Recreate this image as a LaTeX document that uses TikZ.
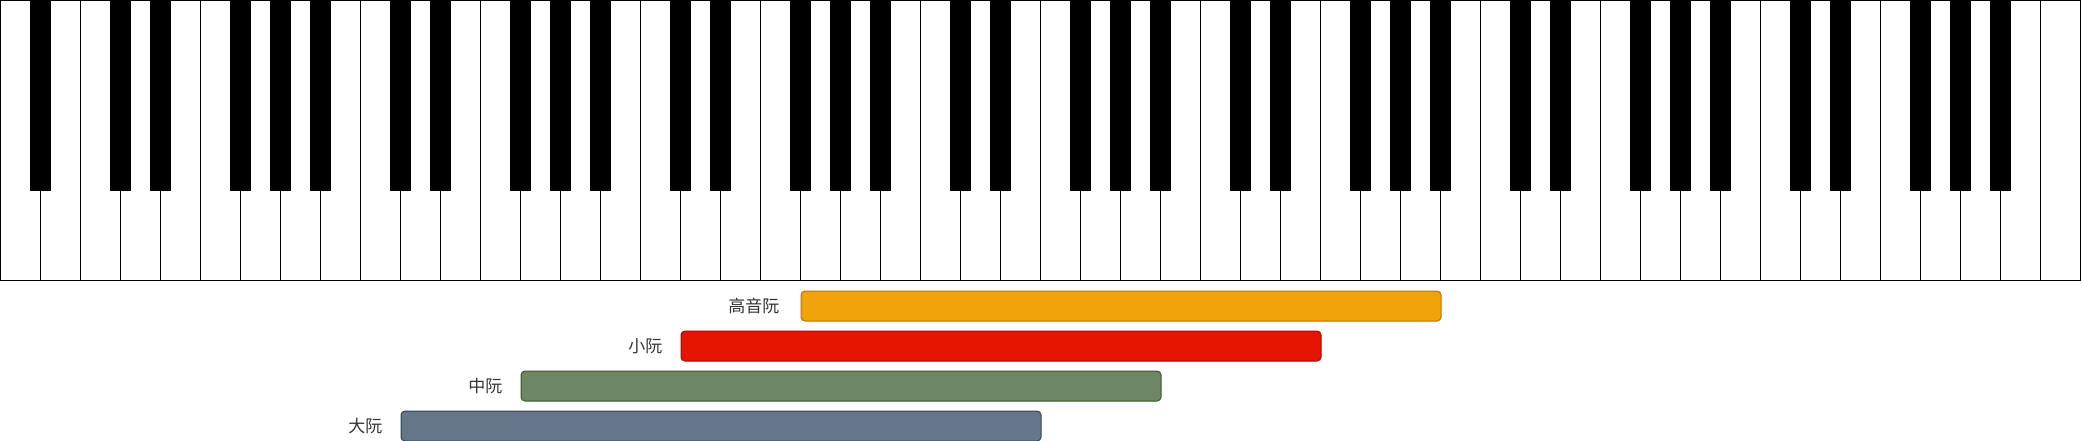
\documentclass[tikz,border=0pt]{standalone}
\usepackage{fontspec}
\newfontfamily\cjk{Noto Sans CJK SC}
\definecolor{orfill}{HTML}{F0A30A}
\definecolor{ordraw}{HTML}{BD7000}
\definecolor{rdfill}{HTML}{E51400}
\definecolor{rddraw}{HTML}{B20000}
\definecolor{gnfill}{HTML}{6D8764}
\definecolor{gndraw}{HTML}{3A5431}
\definecolor{blfill}{HTML}{647687}
\definecolor{bldraw}{HTML}{314354}
\definecolor{txtgray}{HTML}{333333}
\begin{document}
\begin{tikzpicture}[x=1pt,y=-1pt,
  whitekey/.style={draw=black, fill=white, line width=1pt},
  blackkey/.style={fill=black},
  bar/.style={draw, line width=1pt, rounded corners=4pt, minimum height=30pt,
    minimum width=640pt, inner sep=0pt, anchor=north west},
  lbl/.style={font=\cjk\fontsize{17}{20}\selectfont, text=txtgray, anchor=east, inner sep=0pt}]
\useasboundingbox (0,0) rectangle (2082,441);
% white keys
\foreach \i in {0,...,51}
  \draw[whitekey] ({\i*40+0.5},0.5) rectangle ({(\i+1)*40+0.5},280.5);
% black keys
\foreach \o in {0,...,7}
  \foreach \j in {0,2,3,5,6}{
    \pgfmathtruncatemacro\k{7*\o+\j}
    \ifnum\k<51
      \fill[blackkey] ({(\k+1)*40-10},0) rectangle ({(\k+1)*40+11},191);
    \fi
  }
% bars
\node[bar, draw=ordraw, fill=orfill] (b1) at (800.5,290.5) {};
\node[bar, draw=rddraw, fill=rdfill] (b2) at (680.5,330.5) {};
\node[bar, draw=gndraw, fill=gnfill] (b3) at (520.5,370.5) {};
\node[bar, draw=bldraw, fill=blfill] (b4) at (400.5,410.5) {};
% labels
\node[lbl] (l1) at ([xshift=-21pt]b1.west) {高音阮};
\node[lbl] (l2) at ([xshift=-18pt]b2.west) {小阮};
\node[lbl] (l3) at ([xshift=-18pt]b3.west) {中阮};
\node[lbl] (l4) at ([xshift=-18pt]b4.west) {大阮};
\end{tikzpicture}
\end{document}
